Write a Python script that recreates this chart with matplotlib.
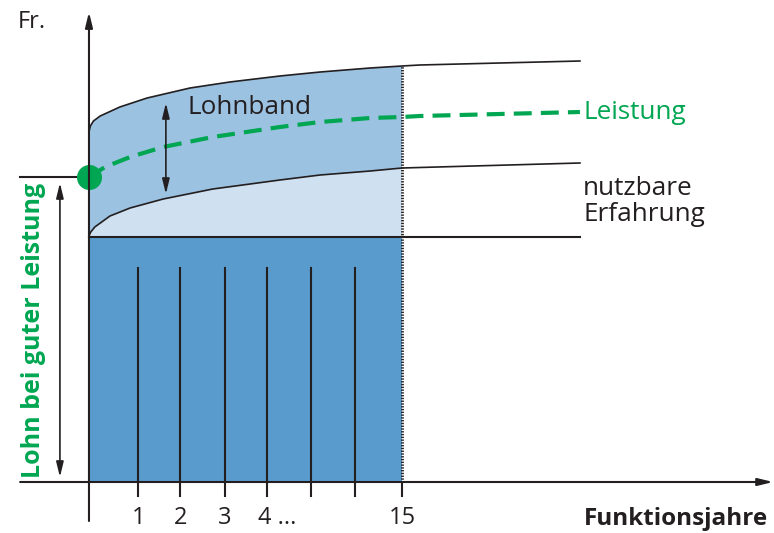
import matplotlib.pyplot as plt

plt.rcParams['font.family'] = ['Open Sans', 'DejaVu Sans']

GREEN = '#00a651'
DARK = '#5a9bcd'
MID = '#9cc2e2'
LIGHT = '#cfe1f0'
INK = '#231f20'

# schematic units: x = position along Funktionsjahre, y = Fr. level
tick_pos = [1.10, 2.04, 3.04, 3.98, 4.97, 5.95, 7.0]
tick_labels = ['1', '2', '3', '4 ...', '', '', '15']
end_year = 7.0
base_level = 24.5
grid_top = 21.4

upper_x = [0, 0.03, 0.10, 0.25, 0.69, 1.30, 2.26, 3.15, 4.27, 5.17, 6.29, 7.0, 7.4, 10.98]
upper_y = [35.0, 35.6, 36.1, 36.6, 37.5, 38.4, 39.4, 40.0, 40.6, 41.0, 41.4, 41.6, 41.7, 42.1]

mid_x = [0, 0.04, 0.13, 0.47, 0.92, 1.66, 2.77, 4.27, 5.17, 6.29, 7.0, 10.98]
mid_y = [24.6, 25.0, 25.5, 26.6, 27.4, 28.3, 29.3, 30.2, 30.7, 31.1, 31.4, 31.9]

perf_x = [0, 0.36, 0.92, 1.66, 2.77, 4.27, 5.17, 6.29, 7.0, 7.4, 10.98]
perf_y = [30.5, 31.5, 32.5, 33.5, 34.5, 35.5, 36.0, 36.4, 36.5, 36.6, 37.0]

fig = plt.figure(figsize=(7.74, 5.33), dpi=100)
ax = fig.add_axes([0, 0, 1, 1])
ax.set_xlim(-1.99, 15.32)
ax.set_ylim(-5.1, 48.2)
ax.axis('off')

# dark block
ax.fill_between([0, end_year], 0, base_level, color=DARK, lw=0, zorder=1)

# light fills up to year 15
n_up = sum(1 for x in upper_x if x <= end_year)
n_mid = sum(1 for x in mid_x if x <= end_year)
ax.fill(upper_x[:n_up] + [end_year, 0], upper_y[:n_up] + [base_level, base_level],
        color=MID, lw=0, zorder=1)
ax.fill(mid_x[:n_mid] + [end_year, 0], mid_y[:n_mid] + [base_level, base_level],
        color=LIGHT, lw=0, zorder=1.1)

# curves
ax.plot(upper_x, upper_y, color=INK, lw=1.2, zorder=3, solid_joinstyle='round')
ax.plot(mid_x, mid_y, color=INK, lw=1.2, zorder=3, solid_joinstyle='round')
ax.plot([0, mid_x[-1]], [base_level, base_level], color=INK, lw=1.5, zorder=3)
ax.plot(perf_x, perf_y, color=GREEN, lw=3, dashes=(4.3, 2.2), zorder=4)
ax.plot([0], [perf_y[0]], 'o', color=GREEN, ms=17, zorder=5)

# year lines
for t in tick_pos[:-1]:
    ax.plot([t, t], [0, grid_top], color=INK, lw=1.5, zorder=3)
for t in tick_pos:
    ax.plot([t, t], [0, -1.4], color=INK, lw=1.5, zorder=3)
ax.plot([end_year, end_year], [0, upper_y[11]], color=INK, lw=2, ls=(0, (0.5, 0.5)), zorder=3)

# axes arrows
ax.annotate('', xy=(15.3, 0), xytext=(-1.54, 0), annotation_clip=False,
            arrowprops=dict(arrowstyle='-|>,head_length=0.9,head_width=0.22', color=INK, lw=1.5,
                            shrinkA=0, shrinkB=0), zorder=6)
ax.annotate('', xy=(0, 47.0), xytext=(0, -3.9), annotation_clip=False,
            arrowprops=dict(arrowstyle='-|>,head_length=0.9,head_width=0.22', color=INK, lw=1.5,
                            shrinkA=0, shrinkB=0), zorder=6)

# left bracket
ax.plot([-1.54, 0], [perf_y[0], perf_y[0]], color=INK, lw=1.5, zorder=3)
ax.annotate('', xy=(-0.65, 0.5), xytext=(-0.65, 29.9),
            arrowprops=dict(arrowstyle='<|-|>,head_length=0.9,head_width=0.22', color=INK, lw=1.2,
                            shrinkA=0, shrinkB=0))
ax.annotate('', xy=(1.72, 28.8), xytext=(1.72, 37.9),
            arrowprops=dict(arrowstyle='<|-|>,head_length=0.9,head_width=0.22', color=INK, lw=1.2,
                            shrinkA=0, shrinkB=0), zorder=6)

# texts
ax.text(-1.59, 46.0, 'Fr.', fontsize=17, color=INK, ha='left', va='center')
ax.text(2.21, 37.5, 'Lohnband', fontsize=18.8, color=INK, ha='left', va='center', zorder=6)
ax.text(11.05, 37.0, 'Leistung', fontsize=18.8, color=GREEN, ha='left', va='center')
ax.text(11.05, 28.05, 'nutzbare\nErfahrung', fontsize=18.8, color=INK, ha='left', va='center',
        linespacing=1.1)
ax.text(-1.25, 15.2, 'Lohn bei guter Leistung', fontsize=18, color=GREEN, fontweight='bold',
        rotation=90, ha='center', va='center')
for t, lab in zip(tick_pos, tick_labels):
    if lab.startswith('4'):
        ax.text(t - 0.2, -3.6, lab, fontsize=17, color=INK, ha='left', va='center')
    elif lab:
        ax.text(t, -3.6, lab, fontsize=17, color=INK, ha='center', va='center')
ax.text(15.18, -3.7, 'Funktionsjahre', fontsize=17.5, color=INK, fontweight='bold',
        ha='right', va='center')

fig.savefig('out.png', dpi=100)
